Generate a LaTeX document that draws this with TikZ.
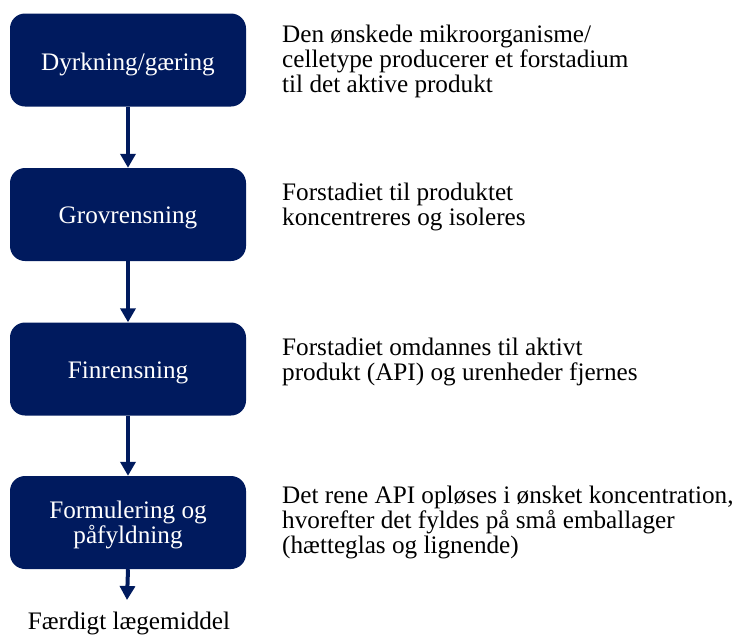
\documentclass[tikz,border=0pt]{standalone}
\usepackage{fontspec}
\setmainfont{Liberation Serif}
\usetikzlibrary{arrows.meta}
\definecolor{navy}{HTML}{001A5E}
\newcommand{\linesL}[1]{\begin{tabular}[t]{@{}l@{}}#1\end{tabular}}
\newcommand{\linesC}[1]{\begin{tabular}[t]{@{}c@{}}#1\end{tabular}}
\begin{document}
\begin{tikzpicture}[x=1pt,y=-1pt,
  stepbox/.style={fill=navy,draw=none,rounded corners=15pt,minimum width=236pt,minimum height=93pt,inner sep=0pt},
  boxtext/.style={anchor=base,inner sep=0pt,text=white,font=\fontsize{25.2}{25}\selectfont},
  desc/.style={anchor=base west,inner sep=0pt,font=\fontsize{25.2}{25}\selectfont},
  flow/.style={draw=navy,line width=4pt,-{Triangle[width=15pt,length=14pt]}}]
\useasboundingbox (0,0) rectangle (736,635);
\node[stepbox] (b1) at (128,60) {};
\node[stepbox] (b2) at (128,214.5) {};
\node[stepbox] (b3) at (128,369) {};
\node[stepbox] (b4) at (128,522.5) {};
\node[boxtext] (t1) at (128,70) {Dyrkning/gæring};
\node[boxtext] (t2) at (128,223) {Grovrensning};
\node[boxtext] (t3) at (128,378) {Finrensning};
\node[boxtext] (t4) at (128,518) {\linesC{Formulering og\\påfyldning}};
\coordinate (end) at (127,600);
\node[anchor=base,inner sep=0pt,font=\fontsize{25.2}{25}\selectfont] (fin) at (129,629) {Færdigt lægemiddel};
\draw[flow] (b1.south) -- (b2.north);
\draw[flow] (b2.south) -- (b3.north);
\draw[flow] (b3.south) -- (b4.north);
\draw[flow] (b4.south) -- (end);
\node[desc] (d1) at (282,42) {\linesL{Den ønskede mikroorganisme/\\celletype producerer et forstadium\\til det aktive produkt}};
\node[desc] (d2) at (282,200) {\linesL{Forstadiet til produktet\\koncentreres og isoleres}};
\node[desc] (d3) at (282,355) {\linesL{Forstadiet omdannes til aktivt\\produkt (API) og urenheder fjernes}};
\node[desc] (d4) at (282,503) {\linesL{Det rene API opløses i ønsket koncentration,\\hvorefter det fyldes på små emballager\\(hætteglas og lignende)}};
\end{tikzpicture}
\end{document}
